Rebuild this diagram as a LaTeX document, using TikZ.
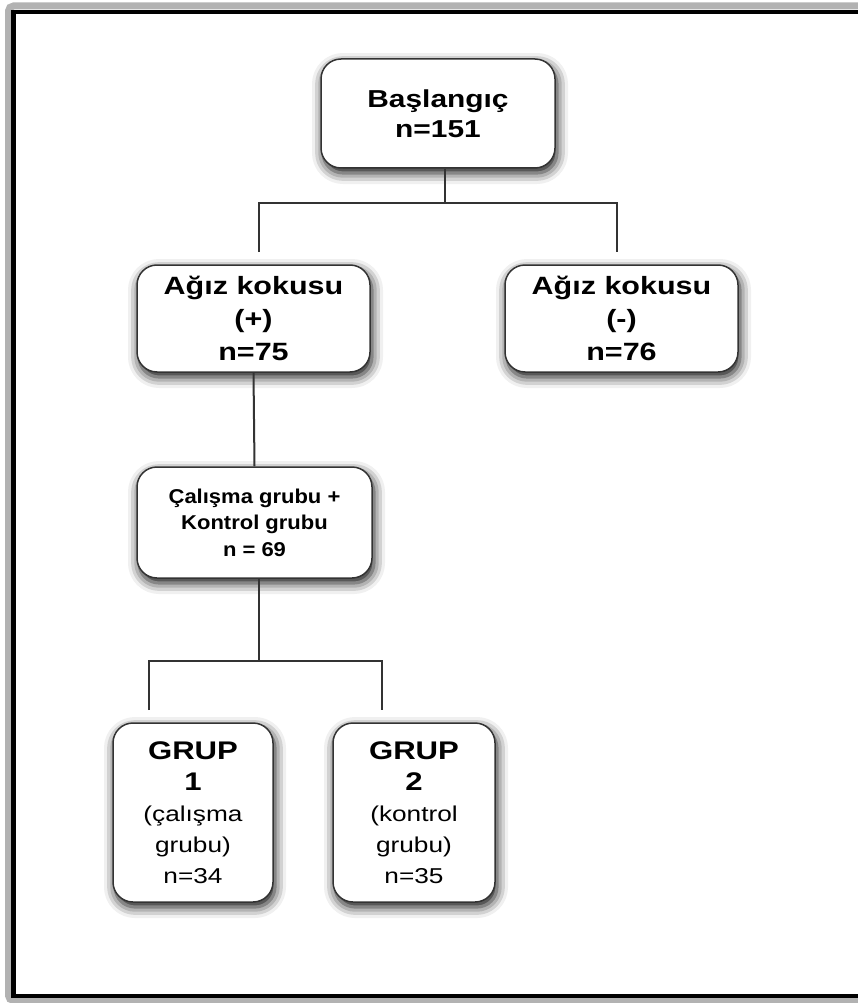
\documentclass[tikz,border=0pt]{standalone}
\usepackage{fontspec}
\setmainfont[FakeStretch=1.22]{Liberation Sans}
\newfontfamily\midfont[FakeStretch=1.1]{Liberation Sans}
\usetikzlibrary{positioning,shadows.blur}
\definecolor{edgegray}{HTML}{333333}
\tikzset{box/.style={draw=edgegray,line width=1.5pt,fill=white,rounded corners=20pt,
        align=center,inner sep=0pt,
        blur shadow={shadow xshift=2pt,shadow yshift=-5pt,shadow blur radius=11pt,shadow opacity=95}},
    conn/.style={draw=edgegray,line width=2pt}}

\begin{document}
\begin{tikzpicture}[x=1pt,y=-1pt]
        \useasboundingbox (0,0) rectangle (858,1003);
        % frame
        \draw[line width=7pt,color=black!30,rounded corners=5pt] (8.5,6) rectangle (900,1000.5);
        \draw[line width=4.5pt,color=black] (13.5,12) rectangle (900,995.8);
        % boxes
        \node[box,minimum width=234pt,minimum height=109pt,
            font=\bfseries\fontsize{24.5}{30}\selectfont] (start) at (438,113.5) {Başlangıç\\n=151};
        \node[box,minimum width=233pt,minimum height=107pt,
            font=\bfseries\fontsize{25}{33}\selectfont] (pos) at (253.5,318.5) {Ağız kokusu\\(+)\\n=75};
        \node[box,minimum width=233pt,minimum height=107pt,
            font=\bfseries\fontsize{25}{33}\selectfont] (neg) at (621.5,318.5) {Ağız kokusu\\(-)\\n=76};
        \node[box,minimum width=235pt,minimum height=111pt,
            font=\midfont\bfseries\fontsize{20}{26.5}\selectfont] (study) at (254.5,522.5) {Çalışma grubu +\\Kontrol grubu\\n = 69};
        \node[box,minimum width=160pt,minimum height=179pt,
            font=\fontsize{21.5}{31}\selectfont] (g1) at (193,812.5)
            {\bfseries\fontsize{25.5}{31}\selectfont GRUP\\\bfseries\fontsize{25.5}{31}\selectfont 1\\(çalışma\\grubu)\\n=34};
        \node[box,minimum width=162pt,minimum height=179pt,
            font=\fontsize{21.5}{31}\selectfont] (g2) at (414,812.5)
            {\bfseries\fontsize{25.5}{31}\selectfont GRUP\\\bfseries\fontsize{25.5}{31}\selectfont 2\\(kontrol\\grubu)\\n=35};
        % connectors
        \coordinate (j1) at (445,203);
        \coordinate (a1) at (259,252);
        \coordinate (b1) at (617,252);
        \coordinate (j2) at (259,661);
        \coordinate (a2) at (149,710);
        \coordinate (b2) at (382,710);
        \draw[conn] (start.south -| j1) -- (j1);
        \draw[conn] (a1) |- (j1) -| (b1);
        \draw[conn] (pos.south) -- (study.north);
        \draw[conn] (study.south -| j2) -- (j2);
        \draw[conn] (a2) |- (j2) -| (b2);
    \end{tikzpicture}
\end{document}
